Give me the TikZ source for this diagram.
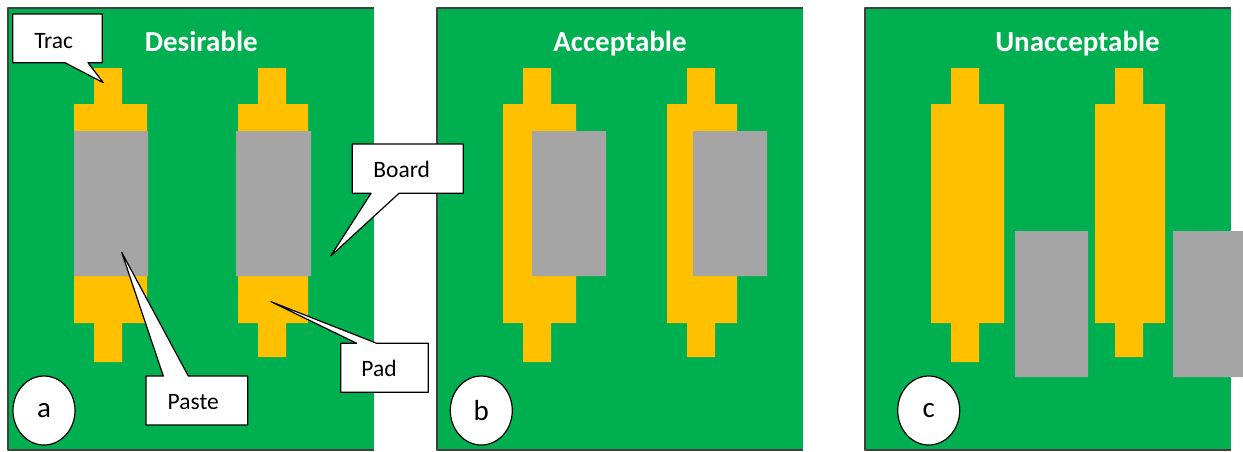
\documentclass[tikz,border=0pt]{standalone}
\usepackage{fontspec}
\setmainfont{Carlito}
\usetikzlibrary{shapes.geometric}
\definecolor{boardgreen}{HTML}{00B050}
\definecolor{padgold}{HTML}{FFC000}
\definecolor{pastegrey}{HTML}{A5A5A5}
\tikzset{
  callbox/.style={draw=black, fill=white, line width=1.2pt},
  lbl/.style={anchor=base, inner sep=0pt, font=\fontsize{23.5}{26}\selectfont},
  title/.style={anchor=base, inner sep=0pt, text=white, font=\fontsize{29}{32}\selectfont\bfseries},
  tag/.style={draw=black, fill=white, line width=1.2pt, ellipse, inner sep=0pt,
    minimum width=62pt, minimum height=69pt, font=\fontsize{29}{32}\selectfont},
}
\begin{document}
\begin{tikzpicture}[x=1pt, y=-1pt, line join=round]
\useasboundingbox (0,0) rectangle (1243,451);
% boards with the two pads
\foreach \L in {8,437,865}{
  \fill[boardgreen] (\L,8) rectangle ({\L+366},450);
  \draw[black!75, line width=1.5pt] ({\L+366},8) -- (\L,8) -- (\L,450) -- ({\L+366},450);
  \fill[padgold] ({\L+86},68) -- ({\L+114},68) -- ({\L+114},104) -- ({\L+139},104) -- ({\L+139},323)
    -- ({\L+114},323) -- ({\L+114},362) -- ({\L+86},362) -- ({\L+86},323) -- ({\L+66},323)
    -- ({\L+66},104) -- ({\L+86},104) -- cycle;
  \fill[padgold] ({\L+250},68) -- ({\L+278},68) -- ({\L+278},104) -- ({\L+300},104) -- ({\L+300},323)
    -- ({\L+278},323) -- ({\L+278},357) -- ({\L+250},357) -- ({\L+250},323) -- ({\L+230},323)
    -- ({\L+230},104) -- ({\L+250},104) -- cycle;
}
% paste
\fill[pastegrey] (74,131) rectangle (148,276) (236,131) rectangle (311,276);
\fill[pastegrey] (532,131) rectangle (606,276) (693,131) rectangle (767,276);
\fill[pastegrey] (1015,231) rectangle (1088,377) (1173,231) rectangle (1246,377);
% titles
\node[title] (desirable) at (201.3,51.7) {Desirable};
\node[title] (acceptable) at (620,51.7) {Acceptable};
\node[title] (unacceptable) at (1077.5,51.7) {Unacceptable};
% callouts
\coordinate (tractip) at (103.3,82.7);
\coordinate (boardtip) at (330.7,256);
\coordinate (padtip) at (271,301.7);
\coordinate (pastetip) at (121.7,252.3);
\draw[callbox] (12.7,14) -- (102.3,14) -- (102.3,62.7) -- (88,62.7) -- (tractip) -- (65,62.7) -- (12.7,62.7) -- cycle;
\draw[callbox] (352.3,144) -- (463.3,144) -- (463.3,193.3) -- (399,193.3) -- (boardtip) -- (371,193.3) -- (352.3,193.3) -- cycle;
\draw[callbox] (340.7,343.3) -- (356.7,343.3) -- (padtip) -- (376.7,343.3) -- (428.3,343.3) -- (428.3,392.3) -- (340.7,392.3) -- cycle;
\draw[callbox] (146,376) -- (163.3,376) -- (pastetip) -- (188.3,376) -- (247.7,376) -- (247.7,425) -- (146,425) -- cycle;
\node[lbl] (trac) at (53.7,48.3) {Trac};
\node[lbl] (board) at (401.7,177.7) {Board};
\node[lbl] (pad) at (379,376.7) {Pad};
\node[lbl] (paste) at (193.3,409) {Paste};
% panel letters
\node[tag] (taga) at (44,410.5) {a};
\node[tag] (tagb) at (481.3,410.5) {b};
\node[tag] (tagc) at (928.7,410.5) {c};
\end{tikzpicture}
\end{document}
